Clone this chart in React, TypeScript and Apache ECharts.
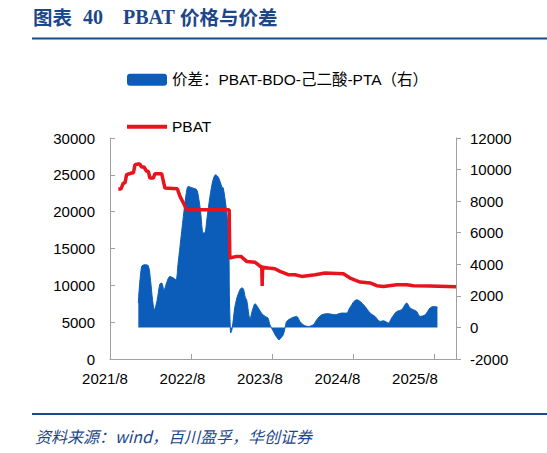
import React, { useEffect, useRef } from "react";
import * as echarts from "echarts";

const spreadName = "价差：PBAT-BDO-己二酸-PTA（右）";
const priceName = "PBAT";

const xTickLabels = ["2021/8", "2022/8", "2023/8", "2024/8", "2025/8"];

const spreadDates = [
  "2021-12-07", "2021-12-22", "2022-01-07", "2022-01-22", "2022-02-01", "2022-02-09", "2022-02-17", "2022-02-28",
  "2022-03-13", "2022-03-21", "2022-04-01", "2022-04-14", "2022-04-27", "2022-05-11", "2022-05-25", "2022-06-03",
  "2022-06-12", "2022-06-27", "2022-07-09", "2022-07-19", "2022-08-05", "2022-08-27", "2022-09-06", "2022-09-13",
  "2022-09-25", "2022-10-03", "2022-10-12", "2022-10-26", "2022-11-08", "2022-11-20", "2022-12-03", "2022-12-18",
  "2022-12-25", "2023-01-10", "2023-01-19", "2023-01-22", "2023-01-26", "2023-01-28", "2023-02-03", "2023-02-09",
  "2023-02-15", "2023-02-28", "2023-03-16", "2023-03-24", "2023-04-02", "2023-04-08", "2023-04-23", "2023-05-04",
  "2023-05-16", "2023-05-30", "2023-06-14", "2023-06-30", "2023-07-13", "2023-07-22", "2023-08-07", "2023-08-19",
  "2023-09-02", "2023-09-11", "2023-09-21", "2023-09-29", "2023-10-06", "2023-10-29", "2023-11-20", "2023-12-05",
  "2023-12-20", "2024-01-12", "2024-02-04", "2024-02-19", "2024-03-12", "2024-04-11", "2024-05-11", "2024-06-10",
  "2024-07-03", "2024-07-13", "2024-07-26", "2024-08-05", "2024-08-18", "2024-09-02", "2024-09-24", "2024-10-17",
  "2024-11-08", "2024-12-01", "2024-12-16", "2025-01-08", "2025-01-23", "2025-02-14", "2025-03-07", "2025-03-30",
  "2025-04-14", "2025-04-29", "2025-05-14", "2025-05-29", "2025-06-21", "2025-07-13", "2025-07-28", "2025-08-16",
];
const spreadValues = [
  1545, 3860, 3970, 3900, 3000, 1800, 1120, 1700,
  2750, 2810, 2390, 2900, 3230, 3150, 3020, 4000,
  5130, 7030, 8400, 8930, 8850, 8720, 8090, 7400,
  5980, 6000, 6900, 8300, 9300, 9670, 9500, 8930,
  8830, 7240, 5500, 2000, 0, -355, -100, 600,
  1330, 2100, 2500, 2450, 1900, 1750, 550, 1100,
  1500, 1250, 900, 700, 600, 170, -250, -550,
  -780, -650, -460, 0, 380, 600, 700, 380,
  170, 60, 170, 490, 800, 870, 800, 910,
  910, 1150, 1440, 1650, 1750, 1650, 1330, 910,
  700, 380, 420, 280, 600, 1010, 1120, 1545,
  1230, 1120, 1010, 700, 800, 1230, 1330, 1290,
];

const priceDates = [
  "2021-09-08", "2021-09-20", "2021-09-30", "2021-10-08", "2021-10-15", "2021-11-07", "2021-11-15", "2021-11-22",
  "2021-12-07", "2021-12-14", "2021-12-22", "2022-01-02", "2022-01-14", "2022-01-22", "2022-01-29", "2022-02-13",
  "2022-02-19", "2022-03-21", "2022-04-05", "2022-05-31", "2022-06-12", "2022-06-27", "2022-07-12", "2023-01-21",
  "2023-01-24", "2023-02-22", "2023-03-13", "2023-04-08", "2023-05-16", "2023-05-31", "2023-06-08", "2023-06-15",
  "2023-06-17", "2023-06-19", "2023-07-15", "2023-08-14", "2023-09-06", "2023-10-13", "2023-11-13", "2023-12-13",
  "2024-02-12", "2024-03-27", "2024-06-18", "2024-07-18", "2024-08-10", "2024-09-02", "2024-10-17", "2024-11-16",
  "2024-12-16", "2025-02-14", "2025-03-30", "2025-04-29", "2025-07-13", "2025-11-08",
];
const priceValues = [
  23080, 23080, 23890, 23890, 25020, 25250, 25250, 26370,
  26470, 26470, 26060, 26060, 25470, 25470, 24570, 24570,
  25150, 25150, 23210, 23100, 22070, 21180, 20270, 20270,
  13710, 13930, 13930, 13250, 13120, 12800, 12570, 12570,
  9900, 12450, 12350, 12250, 11890, 11440, 11440, 11210,
  11440, 11670, 11580, 10990, 10700, 10450, 10320, 9950,
  9850, 10090, 10090, 9950, 9900, 9820,
];

const BLUE = "#0B5DB9";
const RED = "#E8141D";
const NAVY = "#1C4788";
const AXIS = "#A0A0A0";
const SANS = '"Liberation Sans", Arial, "Noto Sans CJK SC", sans-serif';
const CJK = '"Noto Sans CJK SC", "Liberation Sans", sans-serif';
const SERIF = '"Liberation Serif", "Times New Roman", serif';

function monthOffset(s: string): number {
  const [y, m, d] = s.split("-").map(Number);
  const dim = new Date(y, m, 0).getDate();
  return (y - 2021) * 12 + (m - 8) + (d - 1) / dim;
}

const plain = (v: number) => String(v);

export default function App() {
  const ref = useRef<HTMLDivElement>(null);
  useEffect(() => {
    if (!ref.current) return;
    const chart = echarts.init(ref.current, undefined, { renderer: "svg" });
    const option: any = {
      animation: false,
      backgroundColor: "#fff",
      textStyle: { fontFamily: SANS },
      grid: [
        { left: 110, top: 138, width: 346, height: 221 },
        { left: 105, top: 138, width: 310, height: 221 },
      ],
      legend: [
        {
          data: [spreadName],
          left: 122,
          top: 67,
          icon: "roundRect",
          itemWidth: 40,
          itemHeight: 12,
          textStyle: { fontSize: 15.5, color: "#000", fontFamily: SANS },
          selectedMode: false,
        },
        {
          data: [priceName],
          left: 122,
          top: 114,
          icon: "rect",
          itemWidth: 40,
          itemHeight: 4,
          textStyle: { fontSize: 15.5, color: "#000", fontFamily: SANS },
          selectedMode: false,
        },
      ],
      xAxis: [
        {
          gridIndex: 0,
          type: "value",
          min: 0,
          max: monthOffset("2025-11-08"),
          interval: 12,
          axisLine: { show: true, onZero: false, lineStyle: { color: AXIS, width: 1 } },
          axisTick: { show: true, inside: true, length: 5, lineStyle: { color: AXIS } },
          axisLabel: { show: false },
          splitLine: { show: false },
        },
        {
          gridIndex: 1,
          type: "value",
          min: 0,
          max: 48,
          interval: 12,
          axisLine: { show: false },
          axisTick: { show: false },
          splitLine: { show: false },
          axisLabel: {
            show: true,
            margin: 12,
            fontSize: 15,
            color: "#000",
            showMinLabel: true,
            showMaxLabel: true,
            formatter: (v: number) => xTickLabels[Math.round(v / 12)] || "",
          },
        },
      ],
      yAxis: [
        {
          gridIndex: 0,
          type: "value",
          position: "left",
          min: 0,
          max: 30000,
          interval: 5000,
          axisLine: { show: true, lineStyle: { color: AXIS, width: 1 } },
          axisTick: { show: true, inside: true, length: 5, lineStyle: { color: AXIS } },
          axisLabel: { margin: 15, fontSize: 15, color: "#000", formatter: plain },
          splitLine: { show: false },
        },
        {
          gridIndex: 0,
          type: "value",
          position: "right",
          min: -2000,
          max: 12000,
          interval: 2000,
          axisLine: { show: true, lineStyle: { color: AXIS, width: 1 } },
          axisTick: { show: true, inside: false, length: 5, lineStyle: { color: AXIS } },
          axisLabel: { margin: 14, fontSize: 15, color: "#000", formatter: plain },
          splitLine: { show: false },
        },
        {
          gridIndex: 1,
          type: "value",
          show: false,
          min: 0,
          max: 1,
        },
      ],
      series: [
        {
          name: spreadName,
          type: "line",
          xAxisIndex: 0,
          yAxisIndex: 1,
          data: spreadDates.map((d, i) => [monthOffset(d), spreadValues[i]]),
          symbol: "none",
          smooth: 0.3,
          lineStyle: { color: BLUE, width: 1 },
          itemStyle: { color: BLUE },
          areaStyle: { color: BLUE, opacity: 1, origin: 0 },
          z: 2,
        },
        {
          name: priceName,
          type: "line",
          xAxisIndex: 0,
          yAxisIndex: 0,
          data: priceDates.map((d, i) => [monthOffset(d), priceValues[i]]),
          symbol: "none",
          lineStyle: { color: RED, width: 3.5 },
          itemStyle: { color: RED },
          z: 3,
        },
      ],
      graphic: [
        {
          type: "text",
          left: 33,
          top: 7,
          style: { text: "图表", fontSize: 19.5, fontWeight: "bold", fontFamily: CJK, fill: NAVY },
        },
        {
          type: "text",
          left: 83,
          top: 7,
          style: { text: "40", fontSize: 20, fontWeight: "bold", fontFamily: SERIF, fill: NAVY },
        },
        {
          type: "text",
          left: 123,
          top: 7,
          style: { text: "PBAT", fontSize: 20, fontWeight: "bold", fontFamily: SERIF, fill: NAVY },
        },
        {
          type: "text",
          left: 180,
          top: 7,
          style: { text: "价格与价差", fontSize: 19.5, fontWeight: "bold", fontFamily: CJK, fill: NAVY },
        },
        {
          type: "line",
          shape: { x1: 32, y1: 38.5, x2: 547, y2: 38.5 },
          style: { stroke: NAVY, lineWidth: 2 },
        },
        {
          type: "line",
          shape: { x1: 32, y1: 414, x2: 547, y2: 414 },
          style: { stroke: NAVY, lineWidth: 2 },
        },
        {
          type: "text",
          left: 35,
          top: 428,
          style: {
            text: "资料来源：wind，百川盈孚，华创证券",
            fontSize: 16,
            fontStyle: "italic",
            fontFamily: CJK,
            fill: NAVY,
          },
        },
      ],
    };
    chart.setOption(option);
    return () => chart.dispose();
  }, []);
  return (
    <div
      ref={ref}
      style={{ position: "fixed", left: 0, top: 0, width: 547, height: 453, background: "#fff" }}
    />
  );
}
